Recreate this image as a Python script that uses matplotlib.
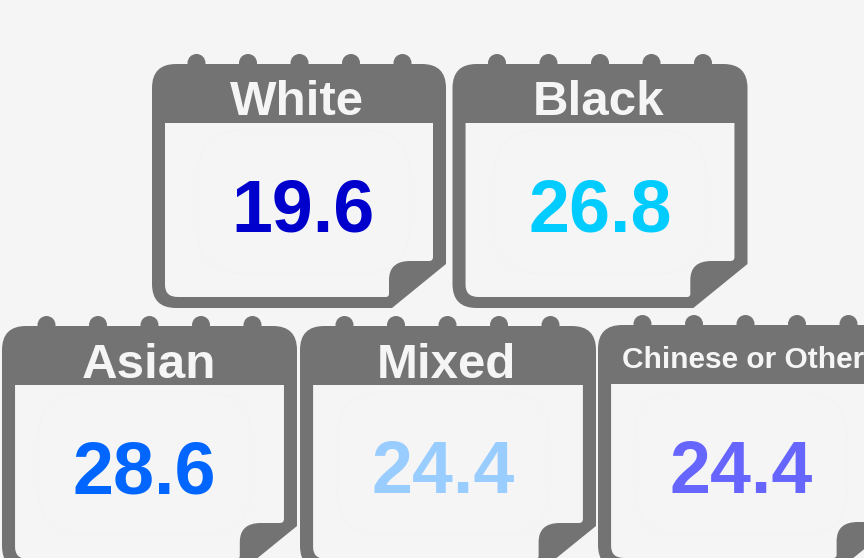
import matplotlib
matplotlib.use("Agg")
import matplotlib.pyplot as plt
from matplotlib.path import Path
from matplotlib.patches import PathPatch, Circle, FancyBboxPatch

labels = ["White", "Black", "Asian", "Mixed", "Chinese or Other"]
values = [19.6, 26.8, 28.6, 24.4, 24.4]
value_colors = ["#0000cc", "#00ccff", "#0066ff", "#99ccff", "#6666ff"]

# layout, pixels from the top left
card_x = [152, 452.5, 2, 300, 598]
card_y = [64, 64, 326, 326, 325]
card_w = [294, 295, 295, 296, 296]
label_x = [297, 599, 149, 446.5, 622]
label_y = [115, 115, 378, 378, 368]
label_size = [35.5, 35.5, 35.5, 35.5, 21.5]
value_x = [303.5, 600, 144.5, 443, 741]
value_y = [231, 231, 493, 493, 493]
ring_dx = [44.5, 96, 147.5, 199, 250.5]

grey = "#737373"
bg = "#f5f5f5"

M, L, C = Path.MOVETO, Path.LINETO, Path.CURVE3
outer = [(0, 24), (0, 0), (24, 0), (270, 0), (294, 0), (294, 24), (294, 200), (240, 244),
         (24, 244), (0, 244), (0, 220), (0, 24)]
outer_c = [M, C, C, L, C, C, L, L, L, C, C, L]
inner = [(13, 59), (281, 59), (281, 193), (281, 197), (277, 197), (258, 197), (237, 197), (237, 216),
         (237, 230), (237, 233), (234, 233), (26, 233), (13, 233), (13, 221), (13, 59)]
inner_c = [M, L, L, C, C, L, C, C, L, C, C, L, C, C, L]

plt.rcParams["font.family"] = ["Liberation Sans", "DejaVu Sans"]
fig = plt.figure(figsize=(8.64, 5.58), dpi=100, facecolor=bg)
ax = fig.add_axes([0, 0, 1, 1])
ax.set_xlim(0, 864)
ax.set_ylim(558, 0)
ax.axis("off")

for i in range(len(labels)):
    x0 = card_x[i]
    y0 = card_y[i]
    sx = card_w[i] / 294
    for dx in ring_dx:
        ax.add_patch(Circle((x0 + dx, y0 - 1), 9, fc=grey, ec="none"))
    ax.add_patch(PathPatch(Path([(x0 + a * sx, y0 + b) for a, b in outer], outer_c), fc=grey, ec="none"))
    hole = PathPatch(Path([(x0 + a * sx, y0 + b) for a, b in inner], inner_c), fc=bg, ec="none")
    ax.add_patch(hole)
    # very faint rounded square behind the number, cut off by the folded corner
    box = FancyBboxPatch((value_x[i] - 106, value_y[i] - 101), 212, 143, boxstyle="round,pad=0,rounding_size=45",
                         fc="none", ec="#f3f3f3", lw=0.6)
    ax.add_patch(box)
    box.set_clip_path(hole)
    ha = "left" if len(labels[i]) > 6 else "center"
    ax.text(label_x[i], label_y[i], labels[i], color=bg, fontsize=label_size[i], fontweight="bold",
            ha=ha, va="baseline")
    ax.text(value_x[i], value_y[i], str(values[i]), color=value_colors[i], fontsize=53, fontweight="bold",
            ha="center", va="baseline")

fig.savefig("out.png", dpi=100, facecolor=bg)
